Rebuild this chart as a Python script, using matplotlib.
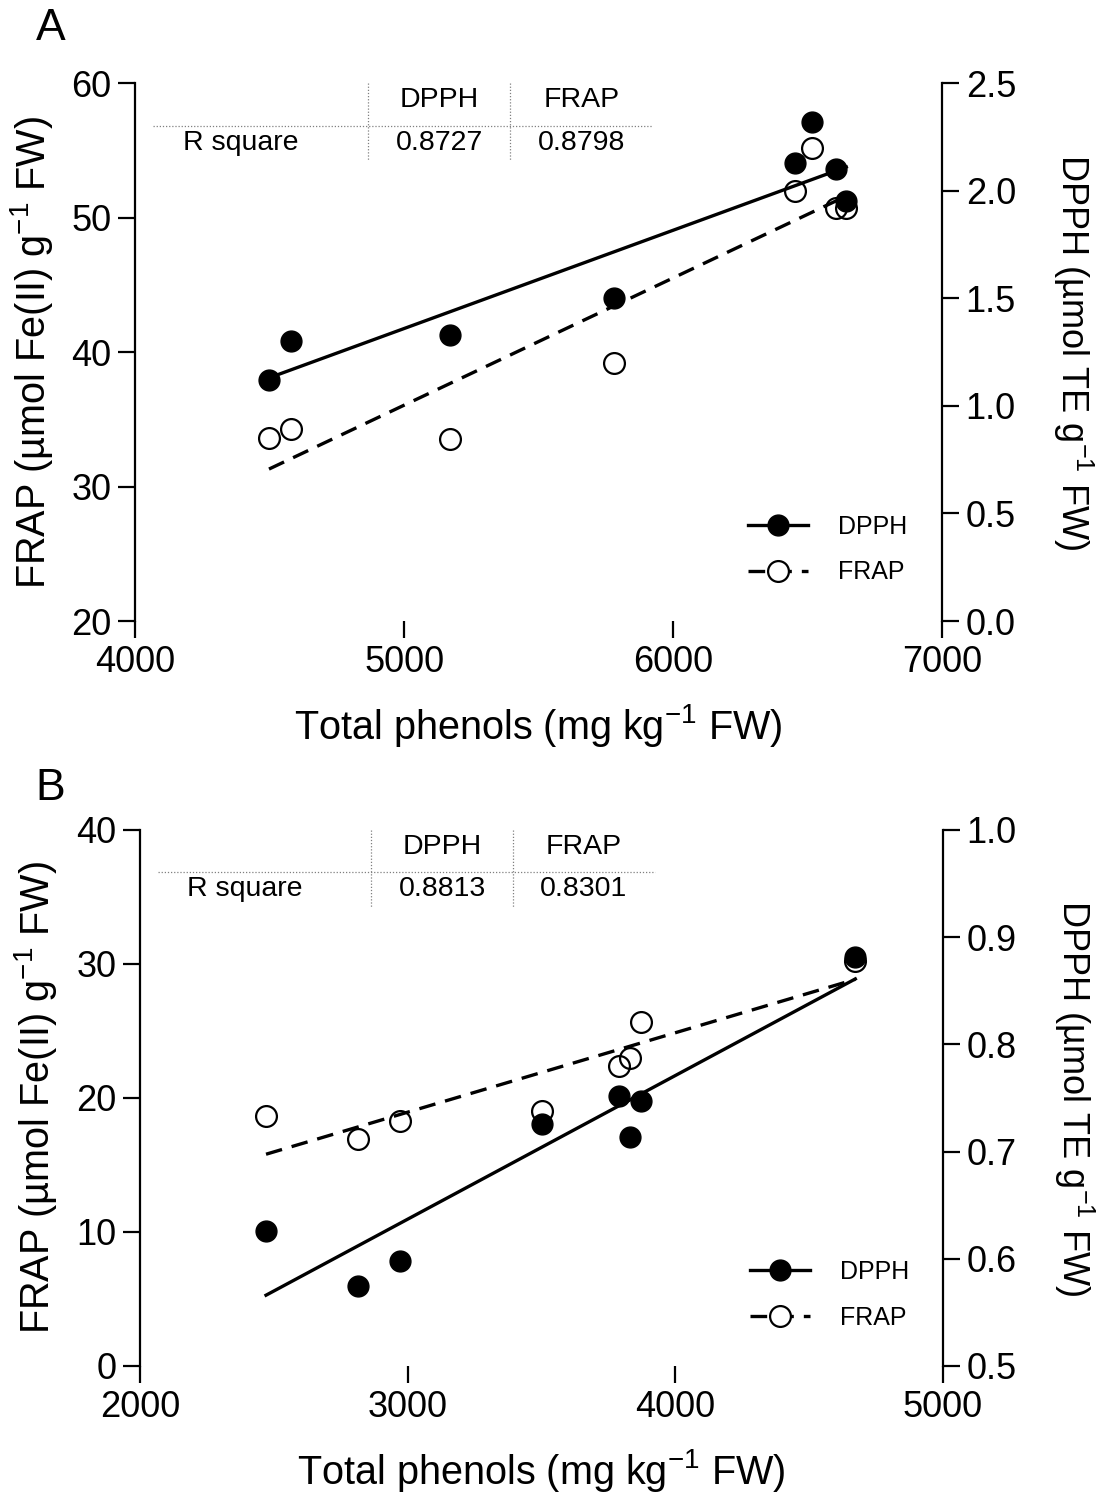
import matplotlib
matplotlib.use("Agg")
import matplotlib.pyplot as plt
from matplotlib.lines import Line2D

plt.rcParams['font.family'] = ['Liberation Sans', 'DejaVu Sans']
plt.rcParams['mathtext.default'] = 'regular'

# ---- panel A data ----
a_phenols = [4497, 4580, 5169, 5781, 6454, 6517, 6606, 6644]
a_dpph = [1.12, 1.30, 1.33, 1.50, 2.13, 2.32, 2.10, 1.95]
a_frap = [33.6, 34.3, 33.5, 39.2, 52.0, 55.2, 50.7, 50.7]
a_fit_x = [4497, 6644]
a_fit_dpph = [1.13, 2.11]
a_fit_frap = [31.3, 51.6]
a_r2 = ["0.8727", "0.8798"]

# ---- panel B data ----
b_phenols = [2471, 2813, 2972, 3502, 3791, 3830, 3872, 4673]
b_dpph = [0.626, 0.575, 0.598, 0.726, 0.752, 0.714, 0.747, 0.881]
b_frap = [18.65, 16.9, 18.25, 19.0, 22.35, 23.0, 25.65, 30.2]
b_fit_x = [2471, 4673]
b_fit_dpph = [0.566, 0.861]
b_fit_frap = [15.8, 28.85]
b_r2 = ["0.8813", "0.8301"]

fig = plt.figure(figsize=(11.04, 14.94), dpi=100)

TICK_FS = 26
XLABEL_FS = 28.5
Y2LABEL_FS = 26
TABLE_FS = 20.5
LEGEND_FS = 18
DASH = (0, (5, 3))


def style(ax, side):
    for s in ['top', 'left', 'right', 'bottom']:
        ax.spines[s].set_visible(False)
    ax.spines['bottom'].set_linewidth(1.6)
    ax.spines[side].set_visible(True)
    ax.spines[side].set_linewidth(1.6)
    ax.tick_params(direction='out', length=12, width=1.6, labelsize=TICK_FS, pad=5)


def panel(rect, x, frap, dpph, fit_x, fit_frap, fit_dpph, r2,
          xlim, xticks, ylim, yticks, y2lim, y2ticks):
    ax = fig.add_axes(rect)
    ax2 = ax.twinx()
    style(ax, 'left')
    style(ax2, 'right')
    ax2.spines['bottom'].set_visible(False)

    ax.plot(fit_x, fit_frap, color='black', lw=2.4, ls=DASH)
    ax.plot(x, frap, ls='none', marker='o', ms=15, mfc='none', mec='black', mew=1.6)
    ax2.plot(fit_x, fit_dpph, color='black', lw=2.4)
    ax2.plot(x, dpph, ls='none', marker='o', ms=15, mfc='black', mec='black')

    ax.set_xlim(xlim)
    ax.set_xticks(xticks)
    ax.set_ylim(ylim)
    ax.set_yticks(yticks)
    ax2.set_ylim(y2lim)
    ax2.set_yticks(y2ticks)
    ax2.set_yticklabels(['{:.1f}'.format(v) for v in y2ticks])

    ax.set_xlabel('Total phenols (mg kg$^{-1}$ FW)', fontsize=XLABEL_FS, labelpad=16)
    ax.set_ylabel('FRAP (\u00b5mol Fe(II) g$^{-1}$ FW)', fontsize=XLABEL_FS, labelpad=12)
    ax2.set_ylabel('DPPH (\u00b5mol TE g$^{-1}$ FW)', fontsize=Y2LABEL_FS, rotation=270, labelpad=57)

    # R square table
    tr = ax.transAxes
    ax.add_line(Line2D([0.022, 0.641], [0.921, 0.921], transform=tr, color='gray',
                       lw=0.9, ls=(0, (1, 1.5)), clip_on=False))
    for vx in [0.288, 0.465]:
        ax.add_line(Line2D([vx, vx], [1.0, 0.855], transform=tr, color='gray',
                           lw=0.9, ls=(0, (1, 1.5)), clip_on=False))
    ax.text(0.377, 0.969, 'DPPH', transform=tr, fontsize=TABLE_FS, ha='center', va='center')
    ax.text(0.553, 0.969, 'FRAP', transform=tr, fontsize=TABLE_FS, ha='center', va='center')
    ax.text(0.131, 0.889, 'R square', transform=tr, fontsize=TABLE_FS, ha='center', va='center')
    ax.text(0.377, 0.889, r2[0], transform=tr, fontsize=TABLE_FS, ha='center', va='center')
    ax.text(0.553, 0.889, r2[1], transform=tr, fontsize=TABLE_FS, ha='center', va='center')

    handles = [
        Line2D([], [], color='black', lw=2.4, marker='o', ms=15, mfc='black', mec='black'),
        Line2D([], [], color='black', lw=2.4, ls=DASH, marker='o', ms=15,
               mfc='white', mec='black', mew=1.6),
    ]
    ax2.legend(handles, ['DPPH', 'FRAP'], loc='upper left', bbox_to_anchor=(0.76, 0.198),
               frameon=False, fontsize=LEGEND_FS, handlelength=2.4, labelspacing=0.87,
               borderpad=0, borderaxespad=0, handletextpad=1.2)
    return ax, ax2


panel([0.1226, 0.5843, 0.7307, 0.3601], a_phenols, a_frap, a_dpph,
      a_fit_x, a_fit_frap, a_fit_dpph, a_r2,
      (4000, 7000), [4000, 5000, 6000, 7000], (20, 60), [20, 30, 40, 50, 60],
      (0, 2.5), [0, 0.5, 1.0, 1.5, 2.0, 2.5])

panel([0.1268, 0.0857, 0.7272, 0.3588], b_phenols, b_frap, b_dpph,
      b_fit_x, b_fit_frap, b_fit_dpph, b_r2,
      (2000, 5000), [2000, 3000, 4000, 5000], (0, 40), [0, 10, 20, 30, 40],
      (0.5, 1.0), [0.5, 0.6, 0.7, 0.8, 0.9, 1.0])

fig.text(51 / 1104, 1 - 29 / 1494, 'A', fontsize=32, ha='center', va='center')
fig.text(50 / 1104, 1 - 788 / 1494, 'B', fontsize=32, ha='center', va='center')

fig.savefig('out.png', dpi=100)
